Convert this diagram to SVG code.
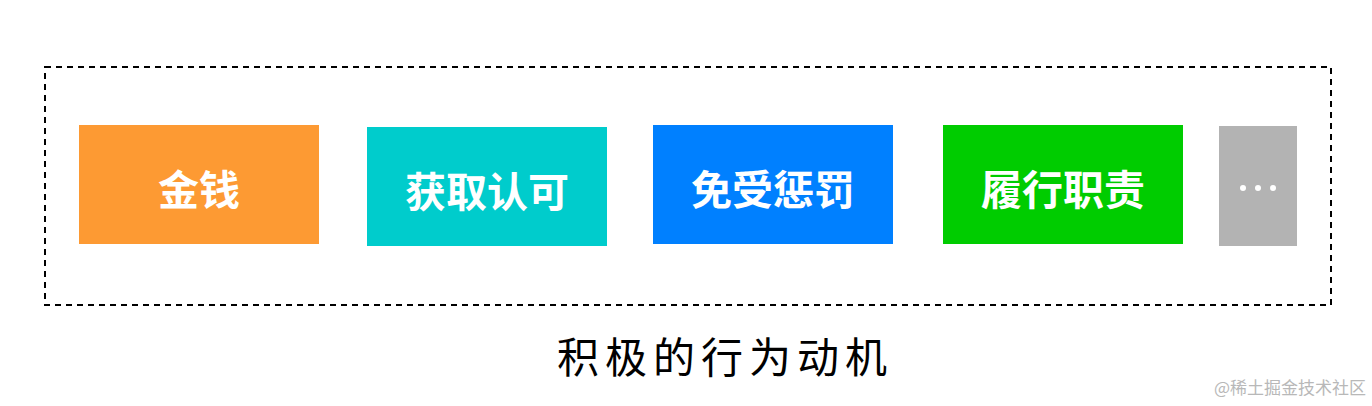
<svg xmlns="http://www.w3.org/2000/svg" width="1372" height="406" viewBox="0 0 1372 406">
<style>
.lbl{font-family:"Noto Sans CJK SC","Noto Sans",sans-serif;font-size:41px;font-weight:bold;fill:#ffffff;text-anchor:middle;dominant-baseline:central}
.cap{font-family:"Noto Sans CJK SC","Noto Sans",sans-serif;font-size:42px;fill:#000000;text-anchor:middle;dominant-baseline:central;letter-spacing:6px}
.wm{font-family:"Noto Sans CJK SC","Noto Sans",sans-serif;font-size:17px;fill:#b8b8b8;text-anchor:end}
</style>
<rect width="1372" height="406" fill="#ffffff"/>
<g id="frame">
<rect x="45" y="67" width="1286" height="238" fill="none" stroke="#000000" stroke-width="2" stroke-dasharray="6,5"/>
</g>
<g id="node-money">
<rect x="79" y="125" width="240" height="119" fill="#fd9a33"/>
<text class="lbl" x="199" y="187">金钱</text>
</g>
<g id="node-approval">
<rect x="367" y="127" width="240" height="119" fill="#00cccc"/>
<text class="lbl" x="487" y="189">获取认可</text>
</g>
<g id="node-punish">
<rect x="653" y="125" width="240" height="119" fill="#0080ff"/>
<text class="lbl" x="773" y="187">免受惩罚</text>
</g>
<g id="node-duty">
<rect x="943" y="125" width="240" height="119" fill="#00cc00"/>
<text class="lbl" x="1063" y="187">履行职责</text>
</g>
<g id="node-more">
<rect x="1219" y="126" width="78" height="120" fill="#b3b3b3"/>
<circle cx="1243" cy="188" r="3" fill="#ffffff"/>
<circle cx="1258" cy="188" r="3" fill="#ffffff"/>
<circle cx="1273" cy="188" r="3" fill="#ffffff"/>
</g>
<g id="connectors"></g>
<text class="cap" x="725" y="354">积极的行为动机</text>
<text class="wm" x="1366" y="394">@稀土掘金技术社区</text>
</svg>
